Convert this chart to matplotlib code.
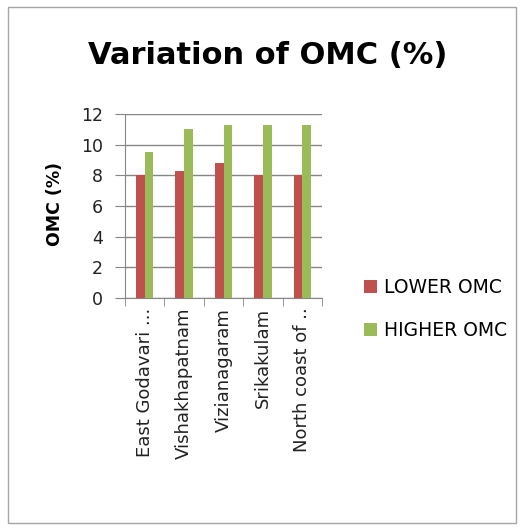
import numpy as np
import matplotlib.pyplot as plt
from matplotlib.patches import Rectangle

# district-wise optimum moisture content
districts = ['East Godavari ...', 'Vishakhapatnam', 'Vizianagaram', 'Srikakulam', 'North coast of ..']
lower_omc = [8.0, 8.3, 8.8, 8.0, 8.0]
higher_omc = [9.5, 11.0, 11.3, 11.3, 11.3]
yticks = [0, 2, 4, 6, 8, 10, 12]

red = '#C0504D'
green = '#9BBB59'
gray = '#868686'

fig = plt.figure(figsize=(5.26, 5.29), dpi=100)
fig.patch.set_facecolor('white')
# chart frame
fig.add_artist(Rectangle((8/526, 6/529), 508/526, 516/529, transform=fig.transFigure,
                         fill=False, edgecolor='#A6A6A6', linewidth=1.0))

ax = fig.add_axes([125/526, 1 - 298/529, 197/526, 184/529])
x = np.arange(len(districts))
w = 0.22
ax.bar(x - w/2, lower_omc, w, color=red, label='LOWER OMC', zorder=3)
ax.bar(x + w/2, higher_omc, w, color=green, label='HIGHER OMC', zorder=3)

ax.set_xlim(-0.5, len(districts) - 0.5)
ax.set_ylim(0, 12)
ax.set_yticks(yticks)
ax.set_yticklabels([str(v) for v in yticks], fontsize=12.5, color='#222222')
ax.yaxis.grid(True, color=gray, linewidth=1.0, zorder=0)
ax.tick_params(axis='y', length=7, color=gray, pad=9, direction='out')

ax.set_xticks(np.arange(len(districts) + 1) - 0.5, minor=True)
ax.set_xticks(x)
ax.set_xticklabels(districts, rotation=90, fontsize=13, va='top', color='#222222')
ax.tick_params(axis='x', which='major', length=0, pad=7)
ax.tick_params(axis='x', which='minor', length=6, color=gray, direction='out')

for s in ['top', 'right']:
    ax.spines[s].set_visible(False)
ax.spines['left'].set_color(gray)
ax.spines['bottom'].set_color(gray)

fig.text(55/526, 1 - 204/529, 'OMC (%)', fontsize=12.5, fontweight='bold',
         rotation=90, ha='center', va='center')

fig.text(268/526, 1 - 55/529, 'Variation of OMC (%)', fontsize=22, fontweight='bold',
         ha='center', va='center')

fig.legend(loc='upper left', bbox_to_anchor=(347/526, 1 - 261/529), frameon=False,
           fontsize=13.5, handlelength=0.7, handleheight=0.7, labelspacing=1.3,
           handletextpad=0.4)

fig.savefig('out.png', dpi=100)
